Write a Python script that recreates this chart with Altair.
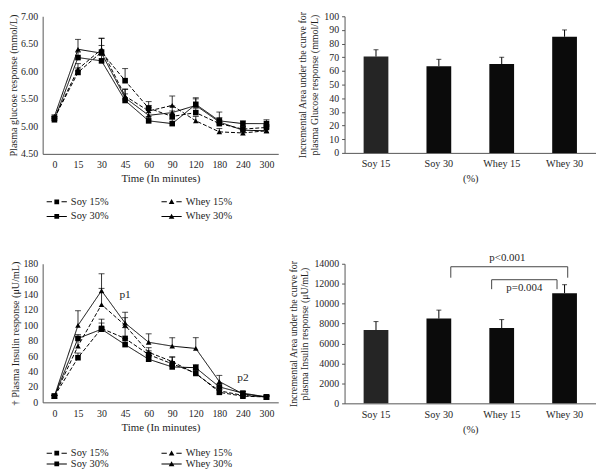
import altair as alt
import pandas as pd

FONT = "Liberation Serif"
TXT = "#1e1e1e"
AX = "#555555"

times = ["0", "15", "30", "45", "60", "90", "120", "180", "240", "300"]
series_names = ["Soy 15%", "Soy 30%", "Whey 15%", "Whey 30%"]
dash_order = ["Soy 15%", "Whey 15%", "Soy 30%", "Whey 30%"]

# Plasma glucose (mmol/L)
glu_soy15 = [5.15, 5.98, 6.35, 5.83, 5.33, 5.18, 5.25, 5.05, 4.95, 4.98]
glu_soy30 = [5.12, 6.25, 6.19, 5.47, 5.10, 5.05, 5.40, 5.10, 5.05, 5.05]
glu_whey15 = [5.15, 6.04, 6.40, 5.55, 5.28, 5.38, 5.10, 4.90, 4.88, 4.92]
glu_whey30 = [5.18, 6.40, 6.33, 5.52, 5.20, 5.25, 5.38, 5.08, 4.93, 4.92]
glu_err_soy15 = [0.03, 0.08, 0.12, 0.22, 0.12, 0.10, 0.08, 0.06, 0.05, 0.05]
glu_err_soy30 = [0.03, 0.10, 0.10, 0.12, 0.08, 0.08, 0.10, 0.06, 0.05, 0.07]
glu_err_whey15 = [0.03, 0.10, 0.20, 0.13, 0.10, 0.17, 0.08, 0.06, 0.05, 0.05]
glu_err_whey30 = [0.03, 0.18, 0.27, 0.15, 0.14, 0.12, 0.14, 0.18, 0.06, 0.08]

# Plasma insulin (uU/mL)
ins_soy15 = [8, 58, 96, 83, 62, 50, 38, 13, 8, 7]
ins_soy30 = [8, 83, 95, 75, 56, 46, 45, 20, 12, 7]
ins_whey15 = [8, 73, 127, 100, 65, 53, 37, 15, 9, 7]
ins_whey30 = [8, 100, 145, 103, 78, 73, 70, 27, 11, 7]
ins_err_soy15 = [1, 6, 7, 14, 5, 9, 5, 4, 2, 1]
ins_err_soy30 = [1, 5, 13, 8, 5, 5, 4, 4, 2, 1]
ins_err_whey15 = [1, 12, 21, 10, 6, 6, 5, 5, 2, 1]
ins_err_whey30 = [1, 19, 22, 14, 11, 11, 14, 8, 3, 2]

# Incremental AUC bars
bar_groups = ["Soy 15", "Soy 30", "Whey 15", "Whey 30"]
glu_auc = [70.5, 63.5, 65.0, 85.0]
glu_auc_err = [5.0, 5.0, 5.0, 5.0]
ins_auc = [7350, 8500, 7550, 11050]
ins_auc_err = [850, 850, 850, 850]

# significance brackets (insulin AUC)
br_left = ["Soy 30", "Whey 15"]
br_right = ["Whey 30", "Whey 30"]
br_top = [13700, 12400]
br_bottom = [12600, 11450]
br_labels = ["p<0.001", "p=0.004"]
br_label_y = [14550, 11550]
br_label_at = ["Whey 15", "Whey 15"]

annot_times = ["45", "240"]
annot_values = [140, 32]
annot_labels = ["p1", "p2"]

# legend glyphs: (dashed|solid) line + (square|triangle), all drawn as filled shapes
_dash = "M-3.4,-0.17L-1.6,-0.17L-1.6,0.17L-3.4,0.17ZM1.6,-0.17L3.4,-0.17L3.4,0.17L1.6,0.17Z"
_solid = "M-3.4,-0.17L3.4,-0.17L3.4,0.17L-3.4,0.17Z"
_sq = "M-0.8,-0.8L0.8,-0.8L0.8,0.8L-0.8,0.8Z"
_tri = "M0,-0.95L0.95,0.75L-0.95,0.75Z"
legend_paths = [_dash + _sq, _solid + _sq, _dash + _tri, _solid + _tri]


def long_df(vals, errs):
    rows = []
    for name, v, e in zip(series_names, vals, errs):
        for t, a, b in zip(times, v, e):
            rows.append({"time": t, "series": name, "value": a, "top": a + b})
    return pd.DataFrame(rows)


def line_panel(df, ydom, yvals, fmt, ytitle, legend_y, row_pad, width, height, annot=False):
    xaxis = alt.Axis(title="Time (In minutes)", labelAngle=0, ticks=False,
                     domainColor=AX, labelPadding=6, titlePadding=3,
                     labelFontSize=10, titleFontSize=11)
    yaxis = alt.Axis(title=ytitle, values=yvals, format=fmt, ticks=False, grid=False,
                     domainColor=AX, labelPadding=5, titlePadding=2,
                     labelFontSize=10, titleFontSize=10.2)
    xs = alt.Scale(type="point", padding=0.5)
    ys = alt.Scale(domain=ydom, nice=False, zero=False)
    x = alt.X("time:O", sort=times, scale=xs, axis=xaxis)
    y = alt.Y("value:Q", scale=ys, axis=yaxis)
    base = alt.Chart(df).encode(x=x, y=y)
    lines = base.mark_line(color="black", strokeWidth=1).encode(
        strokeDash=alt.StrokeDash("series:N", scale=alt.Scale(domain=dash_order,
                                  range=[[4, 2], [4, 2], [1, 0], [1, 0]]), legend=None))
    rules = base.mark_rule(color="black", strokeWidth=0.8).encode(y2="top:Q")
    caps = base.mark_tick(color="black", size=6, thickness=1).encode(
        y=alt.Y("top:Q", scale=ys, axis=yaxis))
    sq = base.transform_filter("indexof(datum.series, 'Soy') == 0").mark_point(
        shape="square", filled=True, size=32, color="black", opacity=1)
    tri = base.transform_filter("indexof(datum.series, 'Whey') == 0").mark_point(
        shape="triangle-up", filled=True, size=32, color="black", opacity=1)
    leg_df = pd.DataFrame({"entry": series_names})
    leg = alt.Chart(leg_df).transform_filter("false").mark_point(
        filled=True, color="black").encode(
        shape=alt.Shape("entry:N", scale=alt.Scale(domain=series_names, range=legend_paths),
                        legend=alt.Legend(title=None, orient="none", legendX=9, legendY=legend_y,
                                          columns=2, columnPadding=53, rowPadding=row_pad,
                                          symbolSize=36, symbolFillColor="black",
                                          symbolStrokeWidth=0,
                                          symbolOpacity=1, labelOffset=9, labelFont=FONT,
                                          labelFontSize=10.5, labelColor=TXT, padding=0)))
    layers = [lines, rules, caps, sq, tri]
    if annot:
        adf = pd.DataFrame({"time": annot_times, "value": annot_values, "label": annot_labels})
        layers.append(alt.Chart(adf).mark_text(font=FONT, fontSize=11.5, color=TXT).encode(
            x=x, y=y, text="label:N"))
    layers.append(leg)
    return alt.layer(*layers).properties(width=width, height=height)


def bar_panel(vals, errs, ydom, yvals, ytitle, width, height, brackets=False):
    bdf = pd.DataFrame({"group": bar_groups, "value": vals,
                        "top": [v + e for v, e in zip(vals, errs)]})
    xaxis = alt.Axis(title="(%)", labelAngle=0, ticks=False, domainColor=AX,
                     labelPadding=6, titlePadding=5, labelFontSize=10.3, titleFontSize=10.5)
    yaxis = alt.Axis(title=ytitle, values=yvals, format="d", ticks=True, tickSize=3,
                     tickColor=AX, grid=False, domainColor=AX, labelPadding=3,
                     titlePadding=4, labelFontSize=10, titleFontSize=10, titleLineHeight=12)
    xs = alt.Scale(domain=bar_groups, paddingInner=0, paddingOuter=0)
    ys = alt.Scale(domain=ydom, nice=False)
    x = alt.X("group:N", sort=bar_groups, scale=xs, axis=xaxis)
    y = alt.Y("value:Q", scale=ys, axis=yaxis)
    base = alt.Chart(bdf).encode(x=x, y=y)
    bars = base.mark_bar(size=25).encode(
        color=alt.Color("group:N", scale=alt.Scale(domain=bar_groups,
                        range=["#252525", "#0b0b0b", "#0b0b0b", "#0b0b0b"]), legend=None))
    rules = base.mark_rule(color="black", strokeWidth=1).encode(y2="top:Q")
    caps = base.mark_tick(color="black", size=5, thickness=1).encode(
        y=alt.Y("top:Q", scale=ys, axis=yaxis))
    layers = [bars, rules, caps]
    if brackets:
        bdf2 = pd.DataFrame({"left": br_left, "right": br_right, "top": br_top,
                             "bottom": br_bottom, "label": br_labels, "ly": br_label_y,
                             "at": br_label_at})
        specs = [(0, 0.69, 0.55, 0.59), (1, 0.34, 0.38, 0.86)]
        for i, bl, brp, tp in specs:
            c = alt.Chart(bdf2.iloc[[i]])
            layers.append(c.mark_rule(color="#444", strokeWidth=1).encode(
                x=alt.X("left:N", bandPosition=bl, scale=xs, axis=xaxis),
                y=alt.Y("bottom:Q", scale=ys, axis=yaxis), y2="top:Q"))
            layers.append(c.mark_rule(color="#444", strokeWidth=1).encode(
                x=alt.X("right:N", bandPosition=brp, scale=xs, axis=xaxis),
                y=alt.Y("bottom:Q", scale=ys, axis=yaxis), y2="top:Q"))
            layers.append(c.mark_rule(color="#444", strokeWidth=1).encode(
                x=alt.X("left:N", bandPosition=bl, scale=xs, axis=xaxis),
                x2=alt.X2("right:N", bandPosition=brp),
                y=alt.Y("top:Q", scale=ys, axis=yaxis)))
            layers.append(c.mark_text(font=FONT, fontSize=11, color=TXT, baseline="middle").encode(
                x=alt.X("at:N", bandPosition=tp, scale=xs, axis=xaxis),
                y=alt.Y("ly:Q", scale=ys, axis=yaxis), text="label:N"))
    return alt.layer(*layers).properties(width=width, height=height)


glu_df = long_df([glu_soy15, glu_soy30, glu_whey15, glu_whey30],
                 [glu_err_soy15, glu_err_soy30, glu_err_whey15, glu_err_whey30])
ins_df = long_df([ins_soy15, ins_soy30, ins_whey15, ins_whey30],
                 [ins_err_soy15, ins_err_soy30, ins_err_whey15, ins_err_whey30])

tl = line_panel(glu_df, [4.5, 7.0], [4.5, 5.0, 5.5, 6.0, 6.5, 7.0], ".2f",
                "Plasma glucose response (mmol/L)", 182, 4, 238, 139)
tr = bar_panel(glu_auc, glu_auc_err, [0, 100], list(range(0, 101, 10)),
               ["Incremental Area under the curve for", "plasma Glucose response (mmol/L)"], 254, 138)
bl = line_panel(ins_df, [0, 180], list(range(0, 181, 20)), "d",
                "\u2020 Plasma Insulin response (\u03bcU/mL)", 186, -2, 238, 140, annot=True)
br = bar_panel(ins_auc, ins_auc_err, [0, 14000], list(range(0, 14001, 2000)),
               ["Incremental Area under the curve for", "plasma Insulin response (\u03bcU/mL)"], 254, 141,
               brackets=True)

chart = alt.concat(tl, tr, bl, br, columns=2, spacing={"row": 111, "column": 67}, bounds="flush") \
    .resolve_scale(x="independent", y="independent", shape="independent",
                   strokeDash="independent", color="independent") \
    .resolve_legend(shape="independent") \
    .properties(padding={"left": 0, "top": 0, "right": 0, "bottom": 0}, background="white") \
    .configure_view(stroke=None) \
    .configure_axis(labelFont=FONT, titleFont=FONT, labelColor=TXT, titleColor=TXT,
                    titleFontWeight="normal", labelOverlap=False)

chart.save("out.html", embed_options={"renderer": "svg", "actions": False})
